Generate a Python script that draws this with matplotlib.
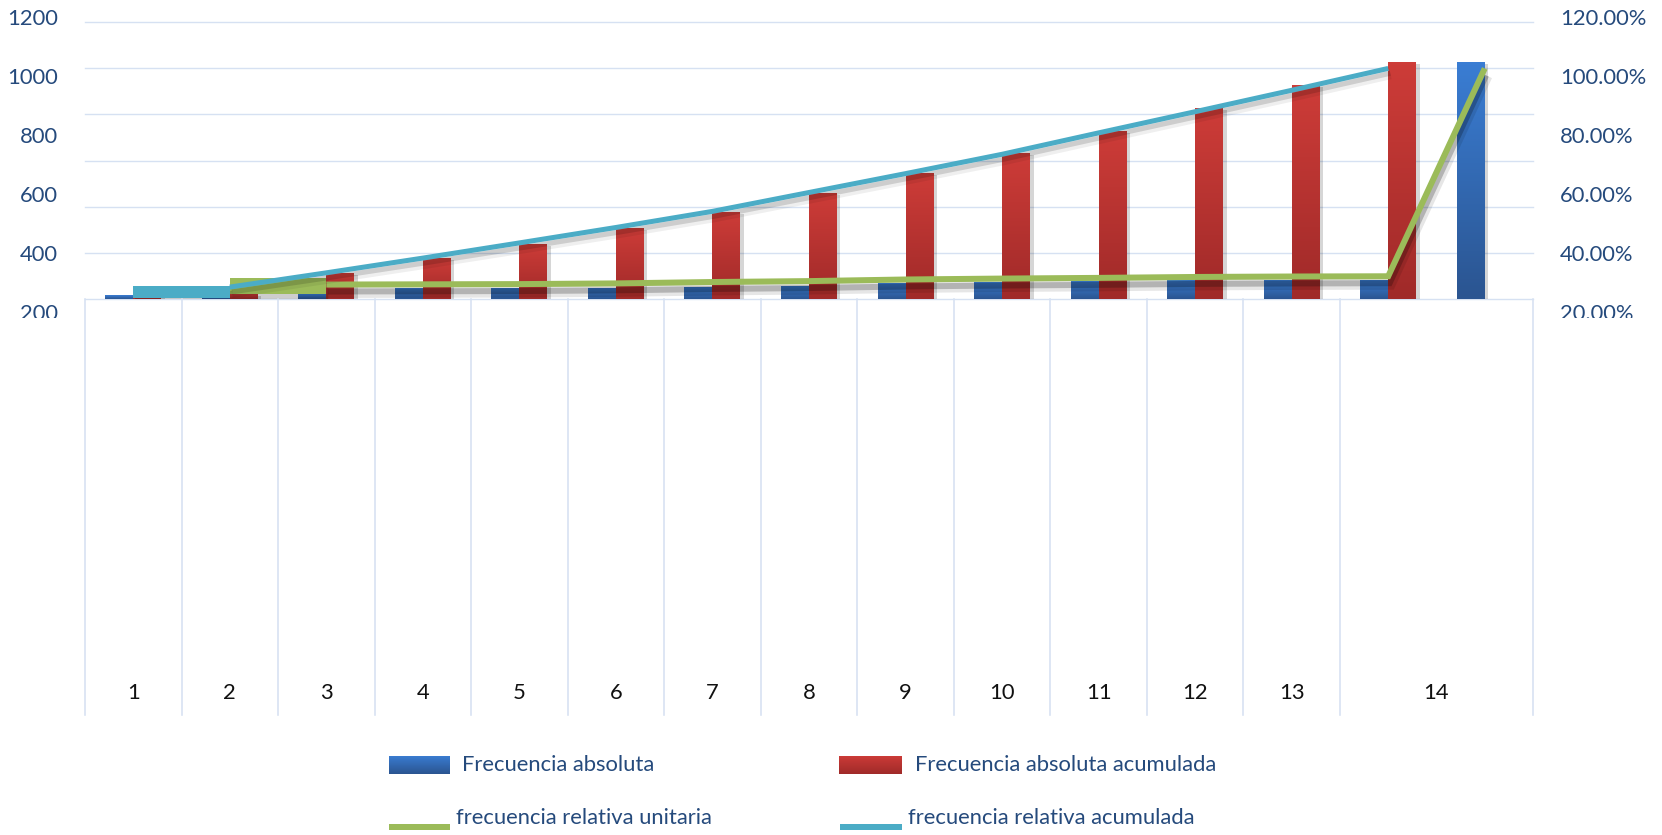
import numpy as np
import matplotlib
matplotlib.use("Agg")
import matplotlib.pyplot as plt
from matplotlib.lines import Line2D
from matplotlib.colors import LinearSegmentedColormap
from matplotlib.transforms import blended_transform_factory, Bbox, TransformedBbox
import matplotlib.patheffects as pe

# ---------------------------------------------------------------- data
categories = list(range(1, 15))                 # class labels on the lower band
slots = np.arange(1, 16)                        # bar slots of the upper band
freq_abs = [16, 10, 20, 45, 46, 46, 52, 56, 66, 73, 78, 81, 81, 81, 1029]
freq_abs_acum = [16, 20, 111, 175, 237, 305, 375, 457, 544, 634, 728, 827, 928, 1029]
# percentages; unit series starts at slot 2, cumulative series at slot 1
frec_rel_unit = [5.5, 6.1, 6.2, 6.3, 6.6, 7.2, 7.6, 8.3, 8.7, 9.0, 9.4, 9.6, 9.7, 100.0]
frec_rel_acum = [2.9, 5.0, 11.2, 17.6, 24.2, 30.9, 37.9, 46.1, 54.3, 62.7, 72.0, 81.2, 90.5, 100.0]
left_tick_values = [1200, 1000, 800, 600, 400, 200]
right_tick_labels = ["120.00%", "100.00%", "80.00%", "60.00%", "40.00%", "20.00%"]
legend_labels = ["Frecuencia absoluta", "Frecuencia absoluta acumulada",
                 "frecuencia relativa unitaria", "frecuencia relativa acumulada"]

# ---------------------------------------------------------------- style
W, H = 1662, 835
FONT = "Lato"
FS = 15.8
TXT_BLUE = "#254A7C"
GRID = "#D6E1F2"
BLUE_TOP, BLUE_BOT = "#3A7DD3", "#2B5591"
RED_TOP, RED_BOT = "#CD3C38", "#A02A29"
GREEN = "#9BBB59"
CYAN = "#4BACC6"
PX = 72 / 100  # points per pixel at dpi 100

plt.rcParams["font.family"] = [FONT, "DejaVu Sans"]

fig = plt.figure(figsize=(W / 100, H / 100), dpi=100, facecolor="white")


def fbox(x0, y0, x1, y1):
    """Figure-fraction rectangle from pixel corners (top-left origin)."""
    return [x0 / W, 1 - y1 / H, (x1 - x0) / W, (y1 - y0) / H]


PLOT_L, PLOT_R = 85, 1533
TOP_Y, ZERO_Y, LOW_Y = 22.4, 298.6, 715

# ---------------------------------------------------------------- upper band
ax = fig.add_axes(fbox(PLOT_L, TOP_Y, PLOT_R, ZERO_Y))
ax.set_xlim(0.5, 15.5)
ax.set_ylim(0, 1200)
ax.axis("off")
for v in range(0, 1201, 200):
    ax.axhline(v, color=GRID, lw=1.4 * PX, clip_on=False, zorder=0)

bar_w = 0.29
bar_shadow = [pe.SimplePatchShadow(offset=(2.5, -1.5), shadow_rgbFace="black", alpha=0.16),
              pe.Normal()]


def gradient_bars(container, c_bot, c_top):
    cmap = LinearSegmentedColormap.from_list("g", [c_bot, c_top])
    grad = np.linspace(0, 1, 64).reshape(-1, 1)
    for rect in container:
        rect.set_path_effects(bar_shadow)
        x0, y0 = rect.get_xy()
        w, h = rect.get_width(), rect.get_height()
        ax.imshow(grad, extent=(x0, x0 + w, y0, y0 + h), origin="lower",
                  aspect="auto", cmap=cmap, interpolation="bilinear", zorder=2.1)


blue = ax.bar(slots - bar_w / 2, freq_abs, width=bar_w, color=BLUE_BOT,
              linewidth=0, zorder=2)
red = ax.bar(slots[:len(freq_abs_acum)] + bar_w / 2, freq_abs_acum, width=bar_w,
             color=RED_BOT, linewidth=0, zorder=2)
gradient_bars(blue, BLUE_BOT, BLUE_TOP)
gradient_bars(red, RED_BOT, RED_TOP)
ax.set_xlim(0.5, 15.5)
ax.set_ylim(0, 1200)

# ---------------------------------------------------------------- lines (right scale)
ax2 = ax.twinx()
ax2.set_ylim(0, 120)
ax2.axis("off")


def line_fx(lw, off=(1.5, -3.5), a=0.14):
    return [pe.SimpleLineShadow(offset=off, shadow_color="black", alpha=a * 0.45,
                                linewidth=lw + 5),
            pe.SimpleLineShadow(offset=off, shadow_color="black", alpha=a),
            pe.Normal()]


lw_g, lw_c = 6 * PX, 5 * PX
x_unit = slots[1:1 + len(frec_rel_unit)]
x_acum = slots[:len(frec_rel_acum)]

# green: first segment drawn as a wide flat band, the rest as a normal line
ax2.plot(x_unit[:2], [frec_rel_unit[0]] * 2, color=GREEN, lw=16 * PX,
         solid_capstyle="butt", zorder=3, path_effects=line_fx(16 * PX))
ax2.plot(x_unit[1:], frec_rel_unit[1:], color=GREEN, lw=lw_g,
         solid_capstyle="butt", solid_joinstyle="miter", zorder=3,
         path_effects=line_fx(lw_g, off=(1, -5), a=0.22))
# cyan: same construction
ax2.plot(x_acum[:2], [frec_rel_acum[0]] * 2, color=CYAN, lw=12 * PX,
         solid_capstyle="butt", zorder=4, path_effects=line_fx(12 * PX))
ax2.plot(x_acum[1:], frec_rel_acum[1:], color=CYAN, lw=lw_c,
         solid_capstyle="butt", zorder=4, path_effects=line_fx(lw_c))

# ---------------------------------------------------------------- lower band
axl = fig.add_axes(fbox(PLOT_L, ZERO_Y, PLOT_R, LOW_Y))
axl.set_xlim(0.5, 15.5)
axl.set_ylim(0, 1)
axl.axis("off")
bounds = np.array([s - 0.5 for s in slots[:len(categories)]] + [slots[-1] + 0.5])
for b in bounds:
    axl.axvline(b, color=GRID, lw=1.6 * PX, clip_on=False)
centers = (bounds[:-1] + bounds[1:]) / 2
label_y = (LOW_Y - 693) / (LOW_Y - ZERO_Y)
for c, lab in zip(centers, categories):
    axl.text(c, label_y, str(lab), ha="center", va="center", fontsize=FS,
             color="#111111")

# ---------------------------------------------------------------- axis labels
axs = fig.add_axes(fbox(0, 18.7, W, 314))
axs.set_ylim(200, 1200)
axs.axis("off")
clip = TransformedBbox(Bbox([[0, 1 - 318 / H], [1, 1]]), fig.transFigure)
tr = blended_transform_factory(fig.transFigure, axs.transData)
for v, rl in zip(left_tick_values, right_tick_labels):
    t1 = axs.text(58 / W, v, str(v), transform=tr, ha="right", va="center",
                  fontsize=FS, color=TXT_BLUE)
    t2 = axs.text(1560 / W, v, rl, transform=tr, ha="left", va="center",
                  fontsize=FS, color=TXT_BLUE)
    for t in (t1, t2):
        t.set_clip_box(clip)
        t.set_clip_on(True)

# ---------------------------------------------------------------- legend
grad = np.linspace(0, 1, 32).reshape(-1, 1)
for (x0, x1), (cb, ct) in zip([(389, 450), (839, 902)],
                              [(BLUE_BOT, BLUE_TOP), (RED_BOT, RED_TOP)]):
    lax = fig.add_axes(fbox(x0, 756, x1, 774))
    lax.imshow(grad, origin="lower", aspect="auto", interpolation="bilinear",
               cmap=LinearSegmentedColormap.from_list("g", [cb, ct]))
    lax.axis("off")
for (x0, x1), col in zip([(389, 450), (840, 902)], [GREEN, CYAN]):
    fig.add_artist(Line2D([x0 / W, x1 / W], [1 - 827 / H] * 2, color=col,
                          lw=6 * PX, solid_capstyle="butt"))
for (x, y), lab in zip([(462, 765), (915, 765), (456, 818), (908, 818)], legend_labels):
    fig.text(x / W, 1 - y / H, lab, ha="left", va="center", fontsize=FS,
             color=TXT_BLUE)

fig.savefig("out.png", dpi=100, facecolor="white")
